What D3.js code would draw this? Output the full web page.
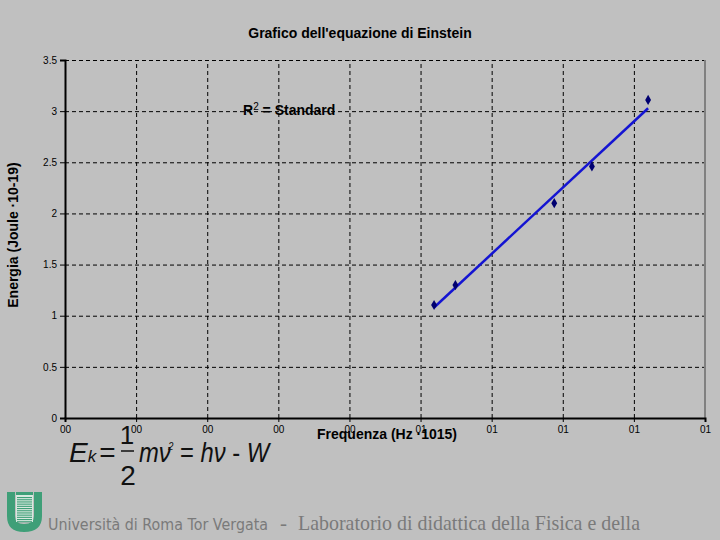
<!DOCTYPE html>
<html>
<head>
<meta charset="utf-8">
<script src="https://cdn.jsdelivr.net/npm/d3@7"></script>
<style>
  body { margin: 0; background: #c0c0c0; }
  svg { display: block; }
  .axis text { font-family: Arial, "Liberation Sans", sans-serif; font-size: 10px; fill: #000; }
  .axis path, .axis line { stroke: #000; }
  .grid line { stroke: #000; stroke-dasharray: 4,3; }
  .grid path { stroke: none; }
  .lbl { font-family: Arial, "Liberation Sans", sans-serif; font-weight: bold; font-size: 14px; fill: #000; }
</style>
</head>
<body>
<div class="chart"></div>
<script>
// data (frequency in 10^15 Hz, energy in 10^-19 J)
var freq = [0.519, 0.549, 0.688, 0.741, 0.820];
var energy = [1.105, 1.30, 2.10, 2.46, 3.11];
var xTicks = [0, 0.1, 0.2, 0.3, 0.4, 0.5, 0.6, 0.7, 0.8, 0.9];
var xTickLabels = ['00', '00', '00', '00', '00', '01', '01', '01', '01', '01'];
var yTicks = [0, 0.5, 1, 1.5, 2, 2.5, 3, 3.5];

var margin = {top: 60, right: 15, bottom: 122, left: 65};
var width = 720 - margin.left - margin.right;
var height = 540 - margin.top - margin.bottom;

var root = d3.select('.chart').append('svg')
  .attr('width', 720)
  .attr('height', 540)
  .style('background-color', '#c0c0c0');

var svg = root.append('g')
  .attr('transform', 'translate(' + margin.left + ',' + margin.top + ')');

var xScale = d3.scaleLinear().domain([0, 0.9]).range([0, width]);
var yScale = d3.scaleLinear().domain([0, 3.5]).range([height, 0]);

// gridlines
svg.append('g')
  .attr('class', 'grid')
  .call(d3.axisLeft(yScale).tickValues(yTicks.slice(1)).tickSize(-width).tickFormat(''));

svg.append('g')
  .attr('class', 'grid')
  .attr('transform', 'translate(0,' + height + ')')
  .call(d3.axisBottom(xScale).tickValues(xTicks.slice(1, -1)).tickSize(-height).tickFormat(''));

// right border
svg.append('line')
  .attr('x1', xScale(0.9)).attr('x2', xScale(0.9))
  .attr('y1', yScale(3.5)).attr('y2', yScale(0))
  .attr('stroke', '#808080')
  .attr('stroke-width', 2);

// axes
svg.append('g')
  .attr('class', 'axis')
  .attr('transform', 'translate(0,' + height + ')')
  .call(d3.axisBottom(xScale).tickValues(xTicks).tickSize(4).tickPadding(4)
    .tickFormat(function(d, i) { return xTickLabels[i]; }))
  .select('.domain').attr('stroke-width', 2);

svg.append('g')
  .attr('class', 'axis')
  .call(d3.axisLeft(yScale).tickValues(yTicks).tickSize(5).tickPadding(3)
    .tickFormat(function(d) { return d; }))
  .select('.domain').attr('stroke-width', 2).attr('stroke', '#333');

// regression line
var mx = d3.mean(freq), my = d3.mean(energy);
var sxy = d3.sum(freq, function(f, i) { return (f - mx) * (energy[i] - my); });
var sxx = d3.sum(freq, function(f) { return (f - mx) * (f - mx); });
var slope = sxy / sxx, icpt = my - slope * mx;
var ext = d3.extent(freq);

svg.append('path')
  .datum(ext)
  .attr('fill', 'none')
  .attr('stroke', '#1414d2')
  .attr('stroke-width', 2.5)
  .attr('d', d3.line()
    .x(function(d) { return xScale(d); })
    .y(function(d) { return yScale(slope * d + icpt); }));

// points
var diamond = d3.symbol().type(d3.symbolDiamond).size(30);
svg.selectAll('.pt')
  .data(freq)
  .enter().append('path')
  .attr('class', 'pt')
  .attr('fill', '#000070')
  .attr('d', diamond)
  .attr('transform', function(d, i) { return 'translate(' + xScale(d) + ',' + yScale(energy[i]) + ')'; });

// labels
root.append('text').attr('class', 'lbl')
  .attr('x', 360).attr('y', 38).attr('text-anchor', 'middle')
  .text("Grafico dell'equazione di Einstein");

var r2 = root.append('text').attr('class', 'lbl').attr('x', 243).attr('y', 115);
r2.append('tspan').text('R');
r2.append('tspan').attr('font-size', '10px').attr('font-weight', 'normal').attr('dy', -5).text('2');
r2.append('tspan').attr('dy', 5).text(' = Standard');

root.append('text').attr('class', 'lbl')
  .attr('font-size', '13px')
  .attr('transform', 'translate(18,235) rotate(-90)')
  .attr('text-anchor', 'middle')
  .text('Energia (Joule ·10-19)');

root.append('text').attr('class', 'lbl')
  .attr('x', 317).attr('y', 439)
  .text('Frequenza (Hz ·1015)');

// formula
var ff = 'Arial, "Liberation Sans", sans-serif';
var f1 = root.append('text').attr('x', 69).attr('y', 462)
  .attr('font-family', ff).attr('font-size', '28px').attr('font-style', 'italic').attr('fill', '#111');
f1.append('tspan').text('E');
f1.append('tspan').attr('font-size', '17px').text('k');
f1.append('tspan').attr('font-style', 'normal').attr('dx', 3).text('=');

root.append('text').attr('x', 127).attr('y', 444).attr('text-anchor', 'middle')
  .attr('font-family', ff).attr('font-size', '26px').attr('fill', '#111').text('1');
root.append('line').attr('x1', 121).attr('x2', 134).attr('y1', 451).attr('y2', 451)
  .attr('stroke', '#111').attr('stroke-width', 1.5);
root.append('text').attr('x', 128).attr('y', 485).attr('text-anchor', 'middle')
  .attr('font-family', ff).attr('font-size', '28px').attr('fill', '#111').text('2');

var f2 = root.append('g').attr('transform', 'translate(139,462) scale(0.85,1)')
  .append('text')
  .attr('font-family', ff).attr('font-size', '28px').attr('font-style', 'italic').attr('fill', '#111');
f2.append('tspan').text('mν');
f2.append('tspan').attr('font-size', '11px').attr('dy', -12).attr('dx', -3).text('2');
f2.append('tspan').attr('dy', 12).attr('font-style', 'normal').text(' = ');
f2.append('tspan').text('hν');
f2.append('tspan').attr('font-style', 'normal').text(' - ');
f2.append('tspan').text('W');

// footer logo
var logo = root.append('g').attr('transform', 'translate(7,492)');
logo.append('path')
  .attr('d', 'M0,0 H8 V24 Q8,32 17,32 Q27,32 27,24 V0 H35 V24 Q35,40 17,40 Q0,40 0,24 Z')
  .attr('fill', '#3f9f78');
logo.append('rect').attr('x', 9).attr('y', 2).attr('width', 17).attr('height', 28).attr('fill', '#d7e9df');
d3.range(0, 12).forEach(function(i) {
  logo.append('rect').attr('x', 10).attr('y', 5 + i * 2.2).attr('width', 15).attr('height', 1.1).attr('fill', '#3f9f78');
});
logo.append('rect').attr('x', 9).attr('y', 0).attr('width', 17).attr('height', 3).attr('fill', '#3f9f78');

root.append('text').attr('x', 48).attr('y', 530).attr('fill', '#7a7a7a')
  .attr('font-family', '"DejaVu Sans", sans-serif').attr('font-size', '15px')
  .attr('textLength', 220).attr('lengthAdjust', 'spacingAndGlyphs')
  .text('Università di Roma Tor Vergata');
root.append('text').attr('x', 280).attr('y', 530).attr('fill', '#7a7a7a')
  .attr('font-family', '"Liberation Serif", serif').attr('font-size', '21px')
  .text('-');
root.append('text').attr('x', 298).attr('y', 530).attr('fill', '#7a7a7a')
  .attr('font-family', '"Liberation Serif", serif').attr('font-size', '21px')
  .attr('textLength', 342).attr('lengthAdjust', 'spacingAndGlyphs')
  .text('Laboratorio di didattica della Fisica e della');
</script>
</body>
</html>
